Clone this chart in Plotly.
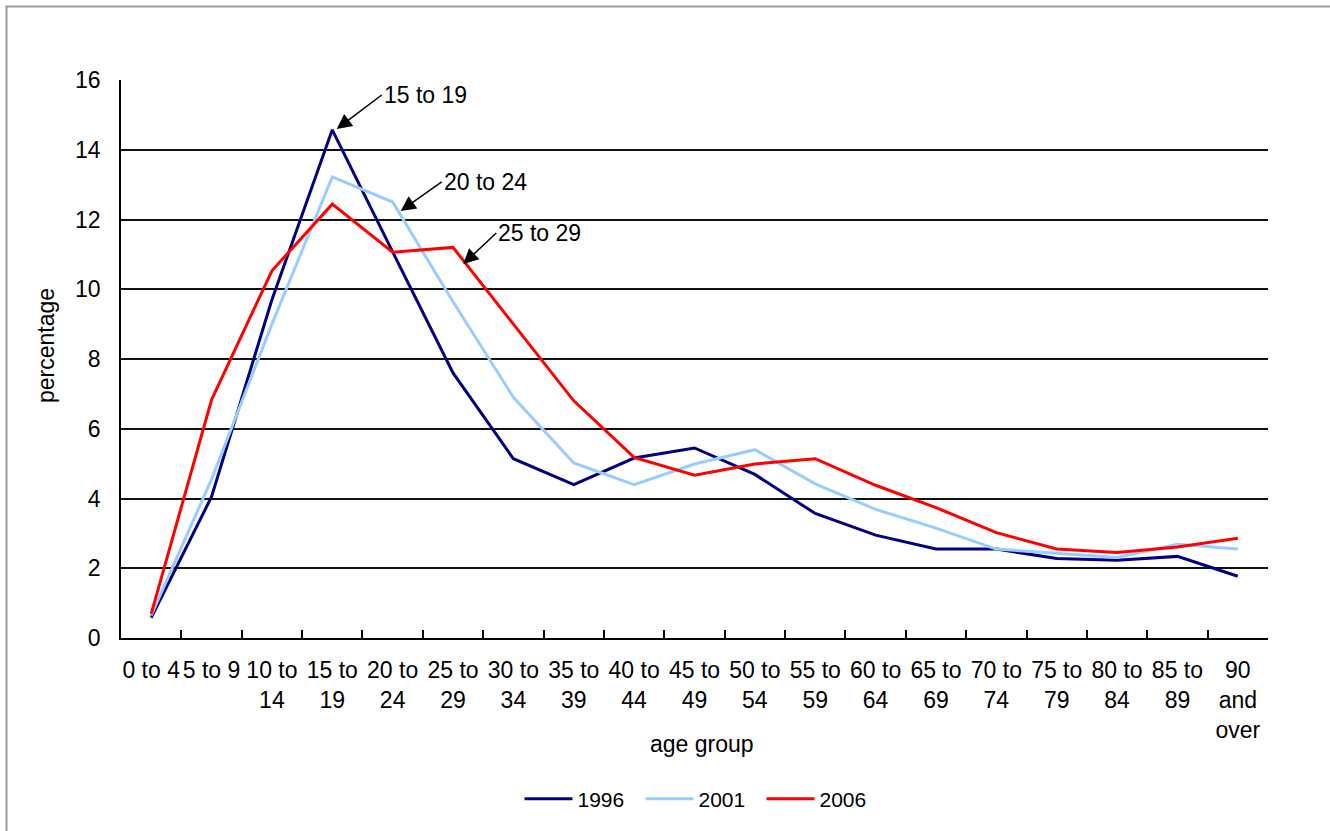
import plotly.graph_objects as go

categories = ["0 to 4", "5 to 9", "10 to 14", "15 to 19", "20 to 24", "25 to 29",
              "30 to 34", "35 to 39", "40 to 44", "45 to 49", "50 to 54", "55 to 59",
              "60 to 64", "65 to 69", "70 to 74", "75 to 79", "80 to 84", "85 to 89",
              "90 and over"]
tick_labels = ["0 to 4", "5 to 9", "10 to<br>14", "15 to<br>19", "20 to<br>24", "25 to<br>29",
               "30 to<br>34", "35 to<br>39", "40 to<br>44", "45 to<br>49", "50 to<br>54",
               "55 to<br>59", "60 to<br>64", "65 to<br>69", "70 to<br>74", "75 to<br>79",
               "80 to<br>84", "85 to<br>89", "90<br>and<br>over"]

v1996 = [0.58, 4.05, 9.70, 14.57, 11.07, 7.60, 5.14, 4.40, 5.16, 5.45, 4.69, 3.57,
         2.95, 2.55, 2.55, 2.28, 2.23, 2.34, 1.77]
v2001 = [0.65, 4.55, 9.00, 13.22, 12.50, 9.64, 6.90, 5.02, 4.40, 4.99, 5.40, 4.42,
         3.69, 3.15, 2.55, 2.43, 2.31, 2.69, 2.55]
v2006 = [0.69, 6.83, 10.53, 12.44, 11.06, 11.20, 9.00, 6.80, 5.18, 4.67, 4.99, 5.14,
         4.38, 3.74, 3.02, 2.55, 2.45, 2.61, 2.86]

series = [("1996", v1996, "#000080"), ("2001", v2001, "#99CCFF"), ("2006", v2006, "#FF0000")]

FONT = "Liberation Sans, Arial, sans-serif"
FS = 23

fig = go.Figure()
for name, vals, color in series:
    fig.add_trace(go.Scatter(x=categories, y=vals, name=name, mode="lines",
                             line=dict(color=color, width=3)))

W, H = 1330, 831
L, R, T, B = 121, 62, 80, 190
pw, ph = W - L - R, H - T - B


def px_x(p):
    return (p - L) / pw


def px_y(p):
    return (H - B - p) / ph


fig.update_layout(
    width=W, height=H, autosize=False,
    margin=dict(l=L, r=R, t=T, b=B, pad=0),
    paper_bgcolor="white", plot_bgcolor="white",
    font=dict(family=FONT, size=FS, color="black"),
    showlegend=True,
    legend=dict(orientation="h", x=px_x(701), y=px_y(803), xanchor="center",
                yanchor="middle", font=dict(size=21), traceorder="normal",
                itemwidth=48, entrywidth=58, entrywidthmode="pixels"),
)

fig.update_xaxes(
    type="category", range=[-0.5, 18.5],
    tickvals=categories, ticktext=tick_labels, tickangle=0,
    tickson="boundaries", ticks="inside", ticklen=8, tickwidth=1.5, tickcolor="black",
    showline=True, linecolor="black", linewidth=1.5,
    showgrid=False, ticklabelstandoff=11,
    tickfont=dict(size=FS),
)
fig.update_yaxes(
    range=[0, 16], dtick=2, tick0=0,
    showgrid=True, gridcolor="#111111", gridwidth=1.5,
    showline=True, linecolor="black", linewidth=1.5,
    zeroline=False, ticks="", ticklabelstandoff=14,
    tickfont=dict(size=FS),
)

# axis titles
fig.add_annotation(text="percentage", xref="paper", yref="paper",
                   x=px_x(45.5), y=px_y(347), textangle=-90, showarrow=False,
                   font=dict(size=FS), xanchor="center", yanchor="middle")
fig.add_annotation(text="age group", xref="paper", yref="paper",
                   x=px_x(702), y=px_y(748), showarrow=False,
                   font=dict(size=FS), xanchor="center", yanchor="middle")

# callouts
callouts = [("15 to 19", 3.073, 14.595, 45, -34),
            ("20 to 24", 4.133, 12.245, 41, -29),
            ("25 to 29", 5.170, 10.724, 33, -31)]
for text, hx, hy, axp, ayp in callouts:
    fig.add_annotation(text=text, x=hx, y=hy, xref="x", yref="y",
                       ax=axp, ay=ayp, showarrow=True, arrowhead=2, arrowsize=2,
                       arrowwidth=1.5, arrowcolor="black", xanchor="left", yanchor="middle",
                       font=dict(size=FS))

# outer frame
fig.add_shape(type="rect", xref="paper", yref="paper",
              x0=px_x(6.5), x1=px_x(1345), y0=px_y(845), y1=px_y(6),
              line=dict(color="#999999", width=2), layer="below")

fig.write_html("out.html")
